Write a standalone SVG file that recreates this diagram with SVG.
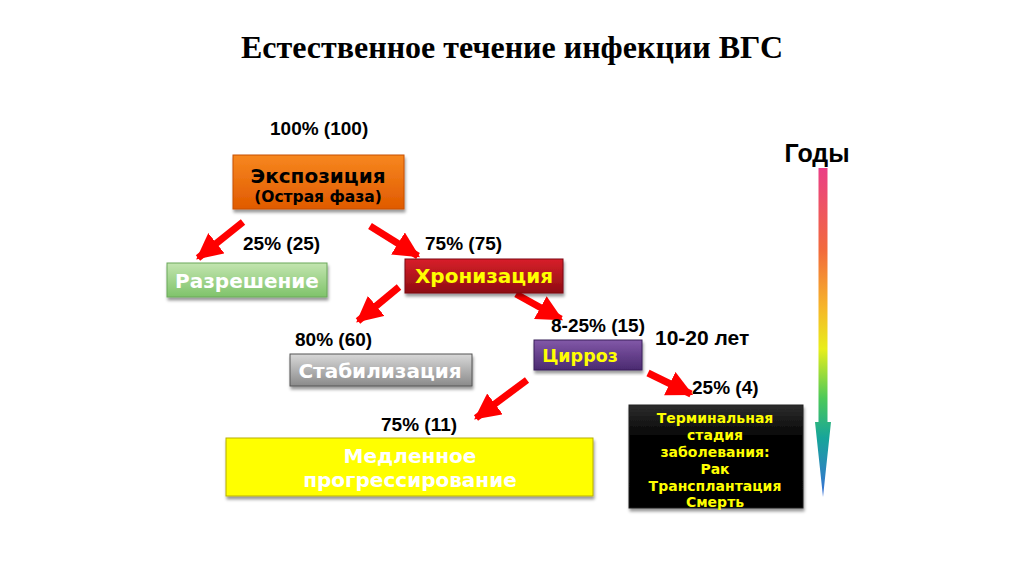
<svg xmlns="http://www.w3.org/2000/svg" width="1024" height="574" viewBox="0 0 1024 574">
<style>
.title{font-family:"Liberation Serif","Times New Roman",serif;font-weight:bold;font-size:32px;fill:#000}
.lbl{font-family:"Liberation Sans",Arial,sans-serif;font-weight:bold;font-size:19px;fill:#000}
.box{font-family:"DejaVu Sans",Verdana,sans-serif;font-weight:bold;text-anchor:middle}
.arr{stroke:#f00;stroke-width:7;fill:none}
</style>
<defs>
<marker id="ah" markerUnits="userSpaceOnUse" markerWidth="26" markerHeight="26" refX="20" refY="11" orient="auto" viewBox="0 0 22 22">
<path d="M0,0 L22,11 L0,22 Z" fill="#f00"/>
</marker>
<linearGradient id="gOr" x1="0" y1="0" x2="0" y2="1"><stop offset="0" stop-color="#f7871f"/><stop offset="1" stop-color="#e05a00"/></linearGradient>
<linearGradient id="gGr" x1="0" y1="0" x2="0" y2="1"><stop offset="0" stop-color="#c3e5b0"/><stop offset="1" stop-color="#7fc36a"/></linearGradient>
<linearGradient id="gRd" x1="0" y1="0" x2="0" y2="1"><stop offset="0" stop-color="#d8202a"/><stop offset="1" stop-color="#8e0c12"/></linearGradient>
<linearGradient id="gGy" x1="0" y1="0" x2="0" y2="1"><stop offset="0" stop-color="#d8d8d8"/><stop offset="1" stop-color="#8a8a8a"/></linearGradient>
<linearGradient id="gPu" x1="0" y1="0" x2="0" y2="1"><stop offset="0" stop-color="#8258a8"/><stop offset="1" stop-color="#4a2a70"/></linearGradient>
<linearGradient id="gBk" x1="0" y1="0" x2="0" y2="1"><stop offset="0" stop-color="#2e2e2e"/><stop offset="0.3" stop-color="#050505"/><stop offset="1" stop-color="#000"/></linearGradient>
<linearGradient id="gRb" gradientUnits="userSpaceOnUse" x1="0" y1="168" x2="0" y2="497">
<stop offset="0" stop-color="#ea3f86"/><stop offset="0.25" stop-color="#f26a3c"/><stop offset="0.42" stop-color="#f6b42a"/><stop offset="0.55" stop-color="#e8ee1a"/><stop offset="0.7" stop-color="#4cc95a"/><stop offset="0.82" stop-color="#17a59a"/><stop offset="1" stop-color="#3a6fd8"/>
</linearGradient>
<filter id="sh" x="-10%" y="-10%" width="120%" height="130%"><feDropShadow dx="1" dy="3" stdDeviation="1.5" flood-color="#000" flood-opacity="0.4"/></filter>
</defs>

<text class="title" x="512" y="58" text-anchor="middle">Естественное течение инфекции ВГС</text>

<g id="connectors">
<line class="arr" x1="243" y1="222" x2="198" y2="258" marker-end="url(#ah)"/>
<line class="arr" x1="370" y1="226" x2="418" y2="256" marker-end="url(#ah)"/>
<line class="arr" x1="399" y1="287" x2="358" y2="321" marker-end="url(#ah)"/>
<line class="arr" x1="516" y1="294" x2="561" y2="319" marker-end="url(#ah)"/>
<line class="arr" x1="527" y1="380" x2="476" y2="418" marker-end="url(#ah)"/>
<line class="arr" x1="648" y1="373" x2="691" y2="394" marker-end="url(#ah)"/>
</g>

<g id="labels">
<text class="lbl" x="270" y="135">100% (100)</text>
<text class="lbl" x="243" y="250">25% (25)</text>
<text class="lbl" x="425" y="250">75% (75)</text>
<text class="lbl" x="295" y="346">80% (60)</text>
<text class="lbl" x="551" y="332">8-25% (15)</text>
<text class="lbl" x="655" y="345" style="font-size:21px">10-20 лет</text>
<text class="lbl" x="381" y="431">75% (11)</text>
<text class="lbl" x="692" y="394">25% (4)</text>
</g>

<g id="exposure">
<rect x="233" y="155" width="171" height="54" fill="url(#gOr)" stroke="#c85000" filter="url(#sh)"/>
<text class="box" x="318" y="183" font-size="20" fill="#000">Экспозиция</text>
<text class="box" x="318" y="202" font-size="15.5" fill="#000">(Острая фаза)</text>
</g>

<g id="resolution">
<rect x="167" y="263" width="160" height="34" fill="url(#gGr)" stroke="#6aa85a" filter="url(#sh)"/>
<text class="box" x="247" y="288" font-size="20" fill="#fff">Разрешение</text>
</g>

<g id="chronic">
<rect x="405" y="259" width="158" height="34" fill="url(#gRd)" stroke="#7a0a10" filter="url(#sh)"/>
<text class="box" x="484" y="283" font-size="20" fill="#ffff00">Хронизация</text>
</g>

<g id="stabilization">
<rect x="290" y="354" width="182" height="32" fill="url(#gGy)" stroke="#555" filter="url(#sh)"/>
<text class="box" x="380" y="378" font-size="20" fill="#fff">Стабилизация</text>
</g>

<g id="cirrhosis">
<rect x="534" y="340" width="108" height="30" fill="url(#gPu)" stroke="#3a1f5a" filter="url(#sh)"/>
<text class="box" x="580" y="362" font-size="17.5" fill="#ffff00">Цирроз</text>
</g>

<g id="slow">
<rect x="226" y="438" width="367" height="58" fill="#ffff00" stroke="#b8b000" filter="url(#sh)"/>
<text class="box" x="410" y="463" font-size="20" fill="#fff">Медленное</text>
<text class="box" x="410" y="487" font-size="20" fill="#fff">прогрессирование</text>
</g>

<g id="terminal">
<rect x="629" y="405" width="174" height="103" fill="url(#gBk)" stroke="#222" filter="url(#sh)"/>
<g class="box" font-size="14" fill="#ffff00">
<text x="715" y="423">Терминальная</text>
<text x="715" y="440">стадия</text>
<text x="715" y="457">заболевания:</text>
<text x="715" y="474">Рак</text>
<text x="715" y="491">Трансплантация</text>
<text x="715" y="507">Смерть</text>
</g>
</g>

<g id="years">
<text class="lbl" x="817" y="162" text-anchor="middle" style="font-size:25px">Годы</text>
<path d="M818.5,168 L827.5,168 L827.5,422 L831,422 L823,497 L815,422 L818.5,422 Z" fill="url(#gRb)"/>
</g>
</svg>
